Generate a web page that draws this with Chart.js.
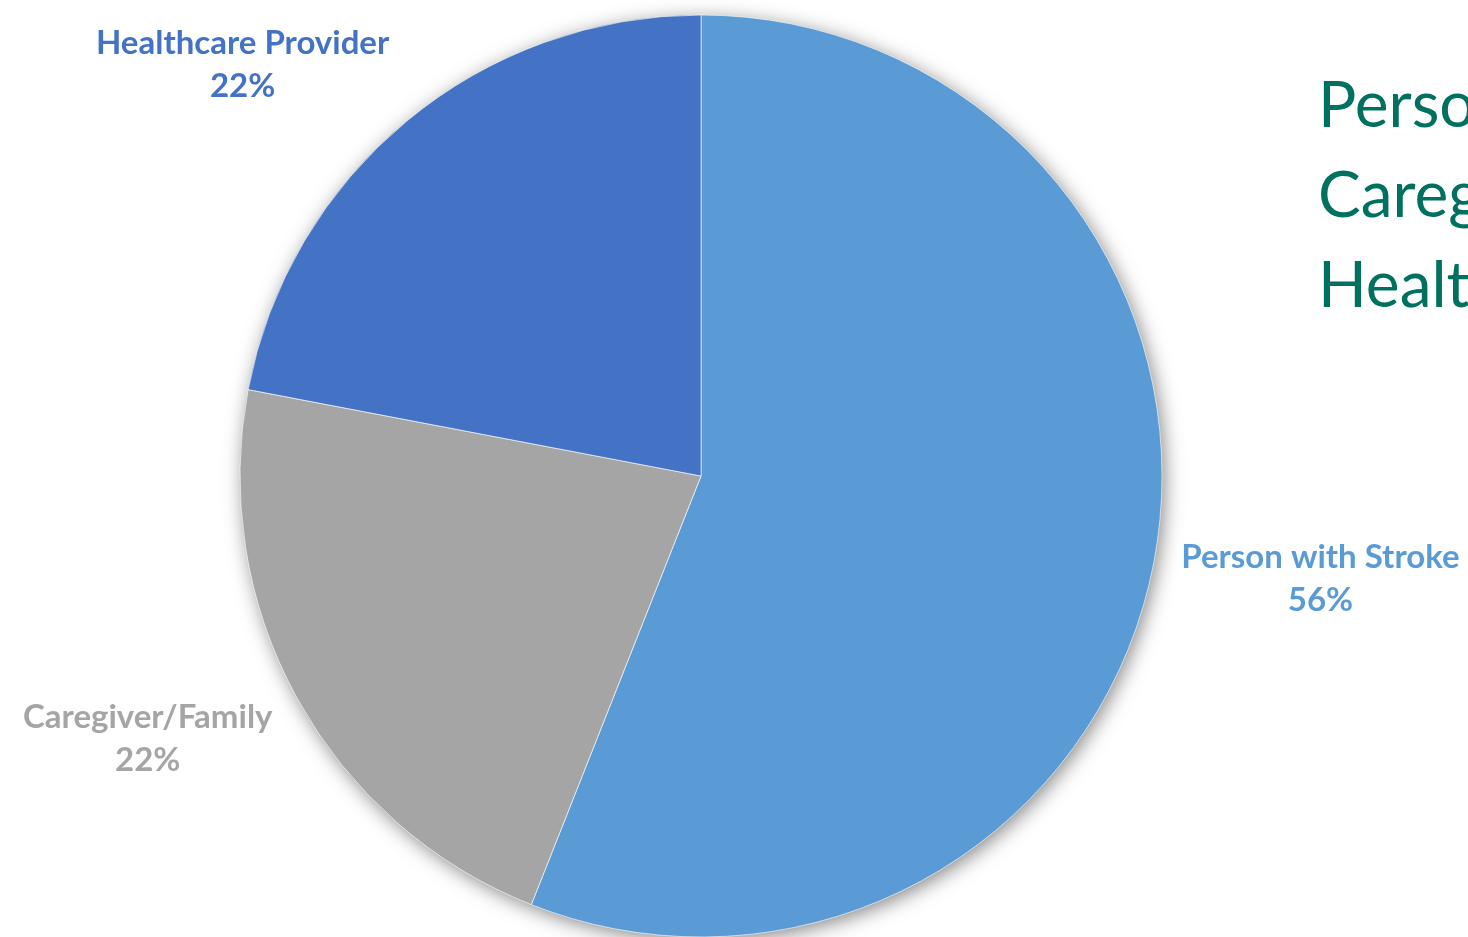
<!DOCTYPE html>
<html>
<head>
<meta charset="utf-8">
<script src="https://cdn.jsdelivr.net/npm/chart.js@4.4.0/dist/chart.umd.min.js"></script>
<style>
  html, body { margin: 0; padding: 0; background: #fff; overflow: hidden; }
  #wrap { position: relative; width: 1468px; height: 937px; overflow: hidden; }
  #side {
    position: absolute; left: 1318px; top: 58px;
    font-family: Lato, "Open Sans", sans-serif; font-size: 64px; line-height: 90px;
    color: #00705f; white-space: nowrap;
  }
</style>
</head>
<body>
<div id="wrap">
  <canvas id="pieChart" width="1468" height="937"></canvas>
  <div id="side">Person with Stroke<br>Caregiver/Family<br>Healthcare Provider</div>
</div>
<script>
const categories = ['Person with Stroke', 'Caregiver/Family', 'Healthcare Provider'];
const shares = [56, 22, 22];
const sliceColors = ['#5b9bd5', '#a5a5a5', '#4472c4'];

// soft drop shadow under the whole pie
const pieShadow = {
  id: 'pieShadow',
  beforeDatasetsDraw(chart) {
    const arc = chart.getDatasetMeta(0).data[0];
    if (!arc) return;
    const { x, y, outerRadius } = arc.getProps(['x', 'y', 'outerRadius'], true);
    const ctx = chart.ctx;
    ctx.save();
    ctx.shadowColor = 'rgba(0,0,0,0.5)';
    ctx.shadowBlur = 20;
    ctx.shadowOffsetX = 3;
    ctx.shadowOffsetY = 4;
    ctx.fillStyle = '#fff';
    ctx.beginPath();
    ctx.arc(x, y, outerRadius - 1, 0, Math.PI * 2);
    ctx.fill();
    ctx.restore();
  }
};

// category name + percent outside each slice
const outsideLabels = {
  id: 'outsideLabels',
  afterDatasetsDraw(chart) {
    const ctx = chart.ctx;
    const meta = chart.getDatasetMeta(0);
    const data = chart.data.datasets[0].data;
    const total = data.reduce((a, b) => a + b, 0);
    const lh = 43;
    ctx.save();
    ctx.font = 'bold 33px Lato, "Open Sans", sans-serif';
    ctx.textAlign = 'center';
    ctx.textBaseline = 'middle';
    meta.data.forEach((arc, i) => {
      const p = arc.getProps(['x', 'y', 'startAngle', 'endAngle', 'outerRadius'], true);
      const mid = (p.startAngle + p.endAngle) / 2;
      const dx = Math.cos(mid), dy = Math.sin(mid);
      const ax = p.x + dx * (p.outerRadius + 28);
      const ay = p.y + dy * (p.outerRadius + 28);
      const line1 = chart.data.labels[i];
      const line2 = Math.round(data[i] / total * 100) + '%';
      const w = Math.max(ctx.measureText(line1).width, ctx.measureText(line2).width);
      const h = lh * 1.6;
      const fx = Math.sign(dx) * Math.min(1, Math.abs(dx) / 0.6);
      const fy = Math.sign(dy) * Math.min(1, Math.abs(dy) / 0.6);
      const cx = ax + fx * w / 2;
      const cy = ay + fy * h / 2;
      ctx.fillStyle = sliceColors[i];
      ctx.fillText(line1, cx, cy - lh / 2);
      ctx.fillText(line2, cx, cy + lh / 2);
    });
    ctx.restore();
  }
};

new Chart(document.getElementById('pieChart'), {
  type: 'pie',
  data: {
    labels: categories,
    datasets: [{
      data: shares,
      backgroundColor: sliceColors,
      borderColor: 'rgba(255,255,255,0.6)',
      borderWidth: 1,
      hoverOffset: 0
    }]
  },
  options: {
    responsive: false,
    animation: false,
    radius: 461,
    layout: { padding: { left: 240, right: 306, top: 15, bottom: 0 } },
    plugins: {
      legend: { display: false },
      tooltip: { enabled: false }
    }
  },
  plugins: [pieShadow, outsideLabels]
});
</script>
</body>
</html>
